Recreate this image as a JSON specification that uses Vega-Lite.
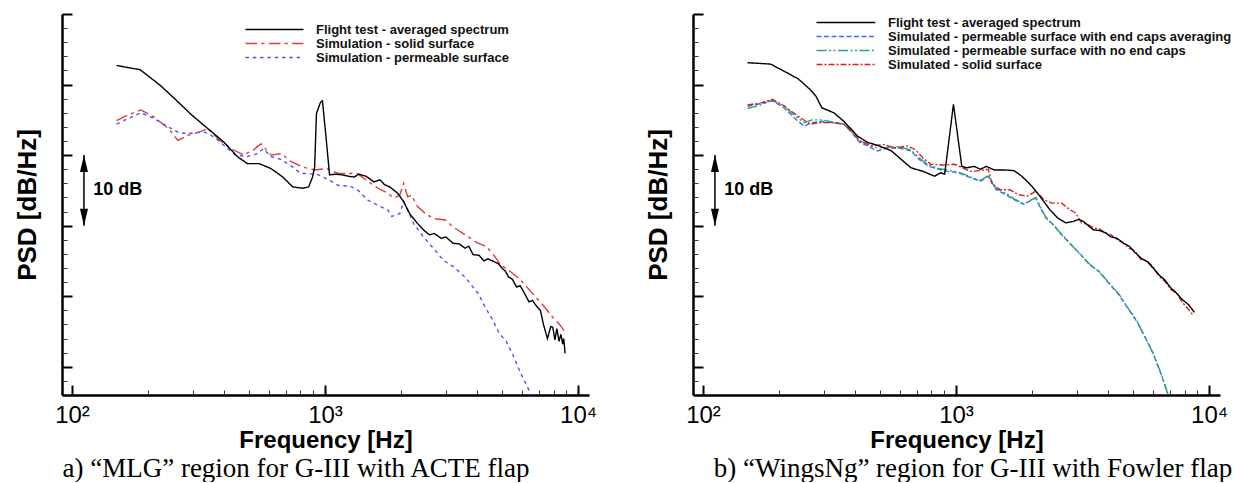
{
  "$schema": "https://vega.github.io/schema/vega-lite/v6.json",
  "autosize": {"type": "pad"},
  "padding": {"left": 14, "top": 13, "right": 0, "bottom": 0},
  "background": "white",
  "bounds": "flush",
  "spacing": 104,
  "config": {
    "view": {"stroke": null},
    "font": "Liberation Sans",
    "axis": {"grid": false, "domainColor": "black", "tickColor": "black", "labelColor": "black", "titleColor": "black"}
  },
  "resolve": {
    "scale": {"color": "independent", "strokeDash": "independent"},
    "legend": {"color": "independent", "strokeDash": "independent"}
  },
  "datasets": {
    "ann": [{"f": 111.5, "lo": 20, "hi": 30}],
    "heads": [{"f": 111.5, "v": 30, "dir": "up"}, {"f": 111.5, "v": 20, "dir": "down"}],
    "lbl": [{"f": 121.4, "v": 25.05, "t": "10 dB"}],
    "a": [
      {"s": "Simulation - solid surface", "f": 150, "v": 34.9},
      {"s": "Simulation - solid surface", "f": 167, "v": 35.7},
      {"s": "Simulation - solid surface", "f": 187, "v": 36.4},
      {"s": "Simulation - solid surface", "f": 211, "v": 35.4},
      {"s": "Simulation - solid surface", "f": 240, "v": 33.8},
      {"s": "Simulation - solid surface", "f": 262, "v": 32.1},
      {"s": "Simulation - solid surface", "f": 287, "v": 32.8},
      {"s": "Simulation - solid surface", "f": 320, "v": 33.3},
      {"s": "Simulation - solid surface", "f": 344, "v": 33.8},
      {"s": "Simulation - solid surface", "f": 383, "v": 32.1},
      {"s": "Simulation - solid surface", "f": 427, "v": 30.9},
      {"s": "Simulation - solid surface", "f": 476, "v": 30.0},
      {"s": "Simulation - solid surface", "f": 520, "v": 30.7},
      {"s": "Simulation - solid surface", "f": 559, "v": 31.6},
      {"s": "Simulation - solid surface", "f": 612, "v": 30.0},
      {"s": "Simulation - solid surface", "f": 669, "v": 30.2},
      {"s": "Simulation - solid surface", "f": 733, "v": 29.1},
      {"s": "Simulation - solid surface", "f": 816, "v": 28.3},
      {"s": "Simulation - solid surface", "f": 910, "v": 27.9},
      {"s": "Simulation - solid surface", "f": 1014, "v": 28.1},
      {"s": "Simulation - solid surface", "f": 1130, "v": 27.4},
      {"s": "Simulation - solid surface", "f": 1259, "v": 27.4},
      {"s": "Simulation - solid surface", "f": 1328, "v": 27.5},
      {"s": "Simulation - solid surface", "f": 1453, "v": 26.5},
      {"s": "Simulation - solid surface", "f": 1619, "v": 25.3},
      {"s": "Simulation - solid surface", "f": 1771, "v": 24.6},
      {"s": "Simulation - solid surface", "f": 1870, "v": 23.9},
      {"s": "Simulation - solid surface", "f": 1973, "v": 24.3},
      {"s": "Simulation - solid surface", "f": 2046, "v": 26.0},
      {"s": "Simulation - solid surface", "f": 2121, "v": 24.1},
      {"s": "Simulation - solid surface", "f": 2199, "v": 24.3},
      {"s": "Simulation - solid surface", "f": 2322, "v": 22.7},
      {"s": "Simulation - solid surface", "f": 2497, "v": 21.7},
      {"s": "Simulation - solid surface", "f": 2681, "v": 21.0},
      {"s": "Simulation - solid surface", "f": 2989, "v": 20.8},
      {"s": "Simulation - solid surface", "f": 3212, "v": 19.8},
      {"s": "Simulation - solid surface", "f": 3578, "v": 18.7},
      {"s": "Simulation - solid surface", "f": 3988, "v": 17.6},
      {"s": "Simulation - solid surface", "f": 4363, "v": 17.0},
      {"s": "Simulation - solid surface", "f": 4692, "v": 15.6},
      {"s": "Simulation - solid surface", "f": 4950, "v": 14.4},
      {"s": "Simulation - solid surface", "f": 5319, "v": 13.7},
      {"s": "Simulation - solid surface", "f": 5926, "v": 12.3},
      {"s": "Simulation - solid surface", "f": 6606, "v": 10.4},
      {"s": "Simulation - solid surface", "f": 7363, "v": 8.5},
      {"s": "Simulation - solid surface", "f": 7910, "v": 7.1},
      {"s": "Simulation - solid surface", "f": 8500, "v": 5.9},
      {"s": "Simulation - solid surface", "f": 8850, "v": 5.0},
      {"s": "Simulation - permeable surface", "f": 150, "v": 34.4},
      {"s": "Simulation - permeable surface", "f": 167, "v": 35.2},
      {"s": "Simulation - permeable surface", "f": 187, "v": 36.0},
      {"s": "Simulation - permeable surface", "f": 211, "v": 35.2},
      {"s": "Simulation - permeable surface", "f": 240, "v": 34.0},
      {"s": "Simulation - permeable surface", "f": 267, "v": 33.1},
      {"s": "Simulation - permeable surface", "f": 297, "v": 33.1},
      {"s": "Simulation - permeable surface", "f": 331, "v": 33.3},
      {"s": "Simulation - permeable surface", "f": 363, "v": 32.6},
      {"s": "Simulation - permeable surface", "f": 404, "v": 31.2},
      {"s": "Simulation - permeable surface", "f": 443, "v": 30.0},
      {"s": "Simulation - permeable surface", "f": 493, "v": 29.8},
      {"s": "Simulation - permeable surface", "f": 540, "v": 30.2},
      {"s": "Simulation - permeable surface", "f": 570, "v": 30.9},
      {"s": "Simulation - permeable surface", "f": 612, "v": 29.8},
      {"s": "Simulation - permeable surface", "f": 669, "v": 29.4},
      {"s": "Simulation - permeable surface", "f": 746, "v": 28.3},
      {"s": "Simulation - permeable surface", "f": 802, "v": 27.4},
      {"s": "Simulation - permeable surface", "f": 862, "v": 27.4},
      {"s": "Simulation - permeable surface", "f": 944, "v": 27.2},
      {"s": "Simulation - permeable surface", "f": 1033, "v": 26.5},
      {"s": "Simulation - permeable surface", "f": 1130, "v": 25.7},
      {"s": "Simulation - permeable surface", "f": 1259, "v": 25.6},
      {"s": "Simulation - permeable surface", "f": 1352, "v": 25.0},
      {"s": "Simulation - permeable surface", "f": 1479, "v": 23.6},
      {"s": "Simulation - permeable surface", "f": 1619, "v": 22.9},
      {"s": "Simulation - permeable surface", "f": 1771, "v": 22.2},
      {"s": "Simulation - permeable surface", "f": 1836, "v": 21.3},
      {"s": "Simulation - permeable surface", "f": 1973, "v": 21.7},
      {"s": "Simulation - permeable surface", "f": 2046, "v": 23.4},
      {"s": "Simulation - permeable surface", "f": 2121, "v": 22.2},
      {"s": "Simulation - permeable surface", "f": 2240, "v": 20.3},
      {"s": "Simulation - permeable surface", "f": 2450, "v": 18.4},
      {"s": "Simulation - permeable surface", "f": 2681, "v": 16.8},
      {"s": "Simulation - permeable surface", "f": 2936, "v": 15.1},
      {"s": "Simulation - permeable surface", "f": 3212, "v": 14.2},
      {"s": "Simulation - permeable surface", "f": 3578, "v": 12.7},
      {"s": "Simulation - permeable surface", "f": 4027, "v": 10.4},
      {"s": "Simulation - permeable surface", "f": 4287, "v": 8.5},
      {"s": "Simulation - permeable surface", "f": 4605, "v": 6.6},
      {"s": "Simulation - permeable surface", "f": 4875, "v": 4.8},
      {"s": "Simulation - permeable surface", "f": 5200, "v": 3.6},
      {"s": "Simulation - permeable surface", "f": 5500, "v": 1.9},
      {"s": "Simulation - permeable surface", "f": 5930, "v": -0.9},
      {"s": "Simulation - permeable surface", "f": 6500, "v": -3.8},
      {"s": "Simulation - permeable surface", "f": 6750, "v": -5.0},
      {"s": "Flight test - averaged spectrum", "f": 150, "v": 42.7},
      {"s": "Flight test - averaged spectrum", "f": 186, "v": 42.1},
      {"s": "Flight test - averaged spectrum", "f": 223, "v": 39.9},
      {"s": "Flight test - averaged spectrum", "f": 258, "v": 37.8},
      {"s": "Flight test - averaged spectrum", "f": 297, "v": 35.7},
      {"s": "Flight test - averaged spectrum", "f": 343, "v": 33.8},
      {"s": "Flight test - averaged spectrum", "f": 397, "v": 31.9},
      {"s": "Flight test - averaged spectrum", "f": 450, "v": 29.8},
      {"s": "Flight test - averaged spectrum", "f": 493, "v": 28.8},
      {"s": "Flight test - averaged spectrum", "f": 549, "v": 28.8},
      {"s": "Flight test - averaged spectrum", "f": 611, "v": 28.1},
      {"s": "Flight test - averaged spectrum", "f": 681, "v": 26.9},
      {"s": "Flight test - averaged spectrum", "f": 745, "v": 25.5},
      {"s": "Flight test - averaged spectrum", "f": 816, "v": 25.3},
      {"s": "Flight test - averaged spectrum", "f": 862, "v": 25.5},
      {"s": "Flight test - averaged spectrum", "f": 893, "v": 26.9},
      {"s": "Flight test - averaged spectrum", "f": 910, "v": 28.3},
      {"s": "Flight test - averaged spectrum", "f": 925, "v": 35.9},
      {"s": "Flight test - averaged spectrum", "f": 960, "v": 37.5},
      {"s": "Flight test - averaged spectrum", "f": 977, "v": 37.7},
      {"s": "Flight test - averaged spectrum", "f": 1012, "v": 32.1},
      {"s": "Flight test - averaged spectrum", "f": 1042, "v": 27.2},
      {"s": "Flight test - averaged spectrum", "f": 1100, "v": 27.3},
      {"s": "Flight test - averaged spectrum", "f": 1170, "v": 27.2},
      {"s": "Flight test - averaged spectrum", "f": 1240, "v": 27.0},
      {"s": "Flight test - averaged spectrum", "f": 1304, "v": 26.9},
      {"s": "Flight test - averaged spectrum", "f": 1360, "v": 27.3},
      {"s": "Flight test - averaged spectrum", "f": 1453, "v": 27.0},
      {"s": "Flight test - averaged spectrum", "f": 1561, "v": 26.2},
      {"s": "Flight test - averaged spectrum", "f": 1648, "v": 26.5},
      {"s": "Flight test - averaged spectrum", "f": 1720, "v": 25.8},
      {"s": "Flight test - averaged spectrum", "f": 1803, "v": 25.5},
      {"s": "Flight test - averaged spectrum", "f": 1937, "v": 24.6},
      {"s": "Flight test - averaged spectrum", "f": 2046, "v": 23.4},
      {"s": "Flight test - averaged spectrum", "f": 2160, "v": 21.7},
      {"s": "Flight test - averaged spectrum", "f": 2322, "v": 20.3},
      {"s": "Flight test - averaged spectrum", "f": 2450, "v": 19.4},
      {"s": "Flight test - averaged spectrum", "f": 2586, "v": 18.7},
      {"s": "Flight test - averaged spectrum", "f": 2700, "v": 18.9},
      {"s": "Flight test - averaged spectrum", "f": 2883, "v": 18.2},
      {"s": "Flight test - averaged spectrum", "f": 3000, "v": 18.4},
      {"s": "Flight test - averaged spectrum", "f": 3212, "v": 17.5},
      {"s": "Flight test - averaged spectrum", "f": 3400, "v": 17.4},
      {"s": "Flight test - averaged spectrum", "f": 3578, "v": 16.8},
      {"s": "Flight test - averaged spectrum", "f": 3700, "v": 17.1},
      {"s": "Flight test - averaged spectrum", "f": 3846, "v": 15.9},
      {"s": "Flight test - averaged spectrum", "f": 4064, "v": 15.8},
      {"s": "Flight test - averaged spectrum", "f": 4250, "v": 15.0},
      {"s": "Flight test - averaged spectrum", "f": 4400, "v": 15.3},
      {"s": "Flight test - averaged spectrum", "f": 4660, "v": 14.9},
      {"s": "Flight test - averaged spectrum", "f": 4850, "v": 14.6},
      {"s": "Flight test - averaged spectrum", "f": 5000, "v": 14.0},
      {"s": "Flight test - averaged spectrum", "f": 5150, "v": 13.6},
      {"s": "Flight test - averaged spectrum", "f": 5319, "v": 12.7},
      {"s": "Flight test - averaged spectrum", "f": 5500, "v": 12.4},
      {"s": "Flight test - averaged spectrum", "f": 5719, "v": 11.3},
      {"s": "Flight test - averaged spectrum", "f": 5900, "v": 11.5},
      {"s": "Flight test - averaged spectrum", "f": 6146, "v": 10.4},
      {"s": "Flight test - averaged spectrum", "f": 6400, "v": 9.2},
      {"s": "Flight test - averaged spectrum", "f": 6606, "v": 9.4},
      {"s": "Flight test - averaged spectrum", "f": 6850, "v": 8.6},
      {"s": "Flight test - averaged spectrum", "f": 7100, "v": 8.0},
      {"s": "Flight test - averaged spectrum", "f": 7300, "v": 6.0},
      {"s": "Flight test - averaged spectrum", "f": 7570, "v": 4.0},
      {"s": "Flight test - averaged spectrum", "f": 7800, "v": 5.7},
      {"s": "Flight test - averaged spectrum", "f": 7950, "v": 5.6},
      {"s": "Flight test - averaged spectrum", "f": 8100, "v": 3.8},
      {"s": "Flight test - averaged spectrum", "f": 8250, "v": 5.4},
      {"s": "Flight test - averaged spectrum", "f": 8410, "v": 3.6},
      {"s": "Flight test - averaged spectrum", "f": 8560, "v": 4.6},
      {"s": "Flight test - averaged spectrum", "f": 8700, "v": 3.2},
      {"s": "Flight test - averaged spectrum", "f": 8780, "v": 4.0},
      {"s": "Flight test - averaged spectrum", "f": 8890, "v": 1.9}
    ],
    "b": [
      {"s": "Simulated - permeable surface with end caps averaging", "f": 150, "v": 36.9},
      {"s": "Simulated - permeable surface with end caps averaging", "f": 169, "v": 37.3},
      {"s": "Simulated - permeable surface with end caps averaging", "f": 188, "v": 37.7},
      {"s": "Simulated - permeable surface with end caps averaging", "f": 209, "v": 36.7},
      {"s": "Simulated - permeable surface with end caps averaging", "f": 229, "v": 35.3},
      {"s": "Simulated - permeable surface with end caps averaging", "f": 251, "v": 34.1},
      {"s": "Simulated - permeable surface with end caps averaging", "f": 270, "v": 34.6},
      {"s": "Simulated - permeable surface with end caps averaging", "f": 295, "v": 34.8},
      {"s": "Simulated - permeable surface with end caps averaging", "f": 323, "v": 34.6},
      {"s": "Simulated - permeable surface with end caps averaging", "f": 360, "v": 34.4},
      {"s": "Simulated - permeable surface with end caps averaging", "f": 387, "v": 33.2},
      {"s": "Simulated - permeable surface with end caps averaging", "f": 416, "v": 31.8},
      {"s": "Simulated - permeable surface with end caps averaging", "f": 447, "v": 31.3},
      {"s": "Simulated - permeable surface with end caps averaging", "f": 489, "v": 30.6},
      {"s": "Simulated - permeable surface with end caps averaging", "f": 535, "v": 31.0},
      {"s": "Simulated - permeable surface with end caps averaging", "f": 596, "v": 31.0},
      {"s": "Simulated - permeable surface with end caps averaging", "f": 664, "v": 30.6},
      {"s": "Simulated - permeable surface with end caps averaging", "f": 714, "v": 29.4},
      {"s": "Simulated - permeable surface with end caps averaging", "f": 781, "v": 28.4},
      {"s": "Simulated - permeable surface with end caps averaging", "f": 855, "v": 28.0},
      {"s": "Simulated - permeable surface with end caps averaging", "f": 919, "v": 27.7},
      {"s": "Simulated - permeable surface with end caps averaging", "f": 1024, "v": 27.5},
      {"s": "Simulated - permeable surface with end caps averaging", "f": 1141, "v": 26.8},
      {"s": "Simulated - permeable surface with end caps averaging", "f": 1248, "v": 26.3},
      {"s": "Simulated - permeable surface with end caps averaging", "f": 1342, "v": 27.0},
      {"s": "Simulated - permeable surface with end caps averaging", "f": 1442, "v": 25.1},
      {"s": "Simulated - permeable surface with end caps averaging", "f": 1607, "v": 24.2},
      {"s": "Simulated - permeable surface with end caps averaging", "f": 1695, "v": 23.7},
      {"s": "Simulated - permeable surface with end caps averaging", "f": 1857, "v": 23.0},
      {"s": "Simulated - permeable surface with end caps averaging", "f": 1960, "v": 23.5},
      {"s": "Simulated - permeable surface with end caps averaging", "f": 2069, "v": 23.9},
      {"s": "Simulated - permeable surface with end caps averaging", "f": 2143, "v": 22.7},
      {"s": "Simulated - permeable surface with end caps averaging", "f": 2264, "v": 21.1},
      {"s": "Simulated - permeable surface with end caps averaging", "f": 2433, "v": 20.1},
      {"s": "Simulated - permeable surface with end caps averaging", "f": 2570, "v": 19.0},
      {"s": "Simulated - permeable surface with end caps averaging", "f": 2810, "v": 17.5},
      {"s": "Simulated - permeable surface with end caps averaging", "f": 3077, "v": 16.1},
      {"s": "Simulated - permeable surface with end caps averaging", "f": 3366, "v": 14.5},
      {"s": "Simulated - permeable surface with end caps averaging", "f": 3682, "v": 13.5},
      {"s": "Simulated - permeable surface with end caps averaging", "f": 4027, "v": 11.8},
      {"s": "Simulated - permeable surface with end caps averaging", "f": 4405, "v": 10.2},
      {"s": "Simulated - permeable surface with end caps averaging", "f": 4833, "v": 8.0},
      {"s": "Simulated - permeable surface with end caps averaging", "f": 5188, "v": 6.4},
      {"s": "Simulated - permeable surface with end caps averaging", "f": 5575, "v": 4.3},
      {"s": "Simulated - permeable surface with end caps averaging", "f": 6004, "v": 1.9},
      {"s": "Simulated - permeable surface with end caps averaging", "f": 6442, "v": -0.9},
      {"s": "Simulated - permeable surface with end caps averaging", "f": 6840, "v": -3.6},
      {"s": "Simulated - permeable surface with end caps averaging", "f": 7050, "v": -5.0},
      {"s": "Simulated - permeable surface with no end caps", "f": 150, "v": 36.6},
      {"s": "Simulated - permeable surface with no end caps", "f": 169, "v": 37.1},
      {"s": "Simulated - permeable surface with no end caps", "f": 188, "v": 37.8},
      {"s": "Simulated - permeable surface with no end caps", "f": 209, "v": 36.9},
      {"s": "Simulated - permeable surface with no end caps", "f": 229, "v": 35.7},
      {"s": "Simulated - permeable surface with no end caps", "f": 251, "v": 34.6},
      {"s": "Simulated - permeable surface with no end caps", "f": 270, "v": 35.0},
      {"s": "Simulated - permeable surface with no end caps", "f": 295, "v": 35.0},
      {"s": "Simulated - permeable surface with no end caps", "f": 323, "v": 34.7},
      {"s": "Simulated - permeable surface with no end caps", "f": 360, "v": 34.4},
      {"s": "Simulated - permeable surface with no end caps", "f": 387, "v": 33.3},
      {"s": "Simulated - permeable surface with no end caps", "f": 416, "v": 32.0},
      {"s": "Simulated - permeable surface with no end caps", "f": 447, "v": 31.6},
      {"s": "Simulated - permeable surface with no end caps", "f": 489, "v": 31.0},
      {"s": "Simulated - permeable surface with no end caps", "f": 535, "v": 31.1},
      {"s": "Simulated - permeable surface with no end caps", "f": 596, "v": 31.2},
      {"s": "Simulated - permeable surface with no end caps", "f": 664, "v": 30.7},
      {"s": "Simulated - permeable surface with no end caps", "f": 714, "v": 29.6},
      {"s": "Simulated - permeable surface with no end caps", "f": 781, "v": 28.6},
      {"s": "Simulated - permeable surface with no end caps", "f": 855, "v": 28.1},
      {"s": "Simulated - permeable surface with no end caps", "f": 919, "v": 27.9},
      {"s": "Simulated - permeable surface with no end caps", "f": 1024, "v": 27.6},
      {"s": "Simulated - permeable surface with no end caps", "f": 1141, "v": 26.9},
      {"s": "Simulated - permeable surface with no end caps", "f": 1248, "v": 26.4},
      {"s": "Simulated - permeable surface with no end caps", "f": 1342, "v": 27.1},
      {"s": "Simulated - permeable surface with no end caps", "f": 1442, "v": 25.3},
      {"s": "Simulated - permeable surface with no end caps", "f": 1607, "v": 24.4},
      {"s": "Simulated - permeable surface with no end caps", "f": 1695, "v": 23.8},
      {"s": "Simulated - permeable surface with no end caps", "f": 1857, "v": 23.1},
      {"s": "Simulated - permeable surface with no end caps", "f": 1960, "v": 23.6},
      {"s": "Simulated - permeable surface with no end caps", "f": 2069, "v": 24.0},
      {"s": "Simulated - permeable surface with no end caps", "f": 2143, "v": 22.8},
      {"s": "Simulated - permeable surface with no end caps", "f": 2264, "v": 21.2},
      {"s": "Simulated - permeable surface with no end caps", "f": 2433, "v": 20.0},
      {"s": "Simulated - permeable surface with no end caps", "f": 2570, "v": 19.1},
      {"s": "Simulated - permeable surface with no end caps", "f": 2810, "v": 17.6},
      {"s": "Simulated - permeable surface with no end caps", "f": 3077, "v": 16.0},
      {"s": "Simulated - permeable surface with no end caps", "f": 3366, "v": 14.6},
      {"s": "Simulated - permeable surface with no end caps", "f": 3682, "v": 13.4},
      {"s": "Simulated - permeable surface with no end caps", "f": 4027, "v": 11.9},
      {"s": "Simulated - permeable surface with no end caps", "f": 4405, "v": 10.3},
      {"s": "Simulated - permeable surface with no end caps", "f": 4833, "v": 8.1},
      {"s": "Simulated - permeable surface with no end caps", "f": 5188, "v": 6.5},
      {"s": "Simulated - permeable surface with no end caps", "f": 5575, "v": 4.2},
      {"s": "Simulated - permeable surface with no end caps", "f": 6004, "v": 2.0},
      {"s": "Simulated - permeable surface with no end caps", "f": 6442, "v": -0.8},
      {"s": "Simulated - permeable surface with no end caps", "f": 6840, "v": -3.6},
      {"s": "Simulated - permeable surface with no end caps", "f": 7050, "v": -5.0},
      {"s": "Simulated - solid surface", "f": 150, "v": 37.1},
      {"s": "Simulated - solid surface", "f": 169, "v": 37.4},
      {"s": "Simulated - solid surface", "f": 188, "v": 37.9},
      {"s": "Simulated - solid surface", "f": 209, "v": 37.0},
      {"s": "Simulated - solid surface", "f": 238, "v": 35.5},
      {"s": "Simulated - solid surface", "f": 265, "v": 34.4},
      {"s": "Simulated - solid surface", "f": 290, "v": 34.6},
      {"s": "Simulated - solid surface", "f": 323, "v": 34.6},
      {"s": "Simulated - solid surface", "f": 360, "v": 34.4},
      {"s": "Simulated - solid surface", "f": 387, "v": 33.4},
      {"s": "Simulated - solid surface", "f": 416, "v": 32.0},
      {"s": "Simulated - solid surface", "f": 463, "v": 31.3},
      {"s": "Simulated - solid surface", "f": 516, "v": 31.5},
      {"s": "Simulated - solid surface", "f": 575, "v": 31.0},
      {"s": "Simulated - solid surface", "f": 641, "v": 31.3},
      {"s": "Simulated - solid surface", "f": 689, "v": 30.8},
      {"s": "Simulated - solid surface", "f": 740, "v": 29.6},
      {"s": "Simulated - solid surface", "f": 796, "v": 28.7},
      {"s": "Simulated - solid surface", "f": 887, "v": 28.6},
      {"s": "Simulated - solid surface", "f": 989, "v": 28.7},
      {"s": "Simulated - solid surface", "f": 1061, "v": 28.2},
      {"s": "Simulated - solid surface", "f": 1141, "v": 27.7},
      {"s": "Simulated - solid surface", "f": 1248, "v": 27.8},
      {"s": "Simulated - solid surface", "f": 1342, "v": 28.0},
      {"s": "Simulated - solid surface", "f": 1390, "v": 25.8},
      {"s": "Simulated - solid surface", "f": 1495, "v": 25.1},
      {"s": "Simulated - solid surface", "f": 1636, "v": 25.1},
      {"s": "Simulated - solid surface", "f": 1759, "v": 24.4},
      {"s": "Simulated - solid surface", "f": 1923, "v": 24.2},
      {"s": "Simulated - solid surface", "f": 2069, "v": 24.9},
      {"s": "Simulated - solid surface", "f": 2223, "v": 23.7},
      {"s": "Simulated - solid surface", "f": 2389, "v": 23.2},
      {"s": "Simulated - solid surface", "f": 2614, "v": 23.2},
      {"s": "Simulated - solid surface", "f": 2810, "v": 22.3},
      {"s": "Simulated - solid surface", "f": 2966, "v": 21.8},
      {"s": "Simulated - solid surface", "f": 3133, "v": 20.4},
      {"s": "Simulated - solid surface", "f": 3300, "v": 20.2},
      {"s": "Simulated - solid surface", "f": 3490, "v": 19.7},
      {"s": "Simulated - solid surface", "f": 3700, "v": 19.5},
      {"s": "Simulated - solid surface", "f": 3890, "v": 19.0},
      {"s": "Simulated - solid surface", "f": 4100, "v": 18.7},
      {"s": "Simulated - solid surface", "f": 4336, "v": 18.0},
      {"s": "Simulated - solid surface", "f": 4550, "v": 17.6},
      {"s": "Simulated - solid surface", "f": 4833, "v": 16.8},
      {"s": "Simulated - solid surface", "f": 5100, "v": 16.4},
      {"s": "Simulated - solid surface", "f": 5387, "v": 15.2},
      {"s": "Simulated - solid surface", "f": 5700, "v": 15.0},
      {"s": "Simulated - solid surface", "f": 6004, "v": 14.2},
      {"s": "Simulated - solid surface", "f": 6350, "v": 12.8},
      {"s": "Simulated - solid surface", "f": 6691, "v": 12.1},
      {"s": "Simulated - solid surface", "f": 7050, "v": 11.0},
      {"s": "Simulated - solid surface", "f": 7458, "v": 10.4},
      {"s": "Simulated - solid surface", "f": 7850, "v": 9.1},
      {"s": "Simulated - solid surface", "f": 8303, "v": 8.1},
      {"s": "Simulated - solid surface", "f": 8656, "v": 7.3},
      {"s": "Flight test - averaged spectrum", "f": 150, "v": 43.1},
      {"s": "Flight test - averaged spectrum", "f": 185, "v": 42.9},
      {"s": "Flight test - averaged spectrum", "f": 209, "v": 41.9},
      {"s": "Flight test - averaged spectrum", "f": 238, "v": 40.8},
      {"s": "Flight test - averaged spectrum", "f": 265, "v": 39.3},
      {"s": "Flight test - averaged spectrum", "f": 279, "v": 38.4},
      {"s": "Flight test - averaged spectrum", "f": 295, "v": 36.7},
      {"s": "Flight test - averaged spectrum", "f": 329, "v": 36.0},
      {"s": "Flight test - averaged spectrum", "f": 360, "v": 34.8},
      {"s": "Flight test - averaged spectrum", "f": 387, "v": 33.6},
      {"s": "Flight test - averaged spectrum", "f": 408, "v": 32.7},
      {"s": "Flight test - averaged spectrum", "f": 447, "v": 31.8},
      {"s": "Flight test - averaged spectrum", "f": 498, "v": 31.3},
      {"s": "Flight test - averaged spectrum", "f": 555, "v": 30.6},
      {"s": "Flight test - averaged spectrum", "f": 607, "v": 29.4},
      {"s": "Flight test - averaged spectrum", "f": 664, "v": 28.2},
      {"s": "Flight test - averaged spectrum", "f": 740, "v": 27.7},
      {"s": "Flight test - averaged spectrum", "f": 824, "v": 27.0},
      {"s": "Flight test - averaged spectrum", "f": 871, "v": 27.5},
      {"s": "Flight test - averaged spectrum", "f": 902, "v": 27.3},
      {"s": "Flight test - averaged spectrum", "f": 977, "v": 37.2},
      {"s": "Flight test - averaged spectrum", "f": 1054, "v": 28.4},
      {"s": "Flight test - averaged spectrum", "f": 1100, "v": 28.2},
      {"s": "Flight test - averaged spectrum", "f": 1182, "v": 28.4},
      {"s": "Flight test - averaged spectrum", "f": 1248, "v": 28.0},
      {"s": "Flight test - averaged spectrum", "f": 1318, "v": 28.4},
      {"s": "Flight test - averaged spectrum", "f": 1416, "v": 27.9},
      {"s": "Flight test - averaged spectrum", "f": 1550, "v": 27.9},
      {"s": "Flight test - averaged spectrum", "f": 1695, "v": 27.8},
      {"s": "Flight test - averaged spectrum", "f": 1822, "v": 27.0},
      {"s": "Flight test - averaged spectrum", "f": 1994, "v": 25.6},
      {"s": "Flight test - averaged spectrum", "f": 2143, "v": 24.2},
      {"s": "Flight test - averaged spectrum", "f": 2345, "v": 22.3},
      {"s": "Flight test - averaged spectrum", "f": 2521, "v": 21.1},
      {"s": "Flight test - averaged spectrum", "f": 2710, "v": 20.4},
      {"s": "Flight test - averaged spectrum", "f": 2914, "v": 20.6},
      {"s": "Flight test - averaged spectrum", "f": 3050, "v": 20.9},
      {"s": "Flight test - averaged spectrum", "f": 3188, "v": 20.6},
      {"s": "Flight test - averaged spectrum", "f": 3490, "v": 19.4},
      {"s": "Flight test - averaged spectrum", "f": 3700, "v": 19.3},
      {"s": "Flight test - averaged spectrum", "f": 3890, "v": 19.0},
      {"s": "Flight test - averaged spectrum", "f": 4100, "v": 18.4},
      {"s": "Flight test - averaged spectrum", "f": 4336, "v": 18.2},
      {"s": "Flight test - averaged spectrum", "f": 4600, "v": 17.5},
      {"s": "Flight test - averaged spectrum", "f": 4833, "v": 17.1},
      {"s": "Flight test - averaged spectrum", "f": 5100, "v": 16.2},
      {"s": "Flight test - averaged spectrum", "f": 5387, "v": 15.4},
      {"s": "Flight test - averaged spectrum", "f": 5700, "v": 14.9},
      {"s": "Flight test - averaged spectrum", "f": 6004, "v": 14.0},
      {"s": "Flight test - averaged spectrum", "f": 6350, "v": 13.0},
      {"s": "Flight test - averaged spectrum", "f": 6691, "v": 12.3},
      {"s": "Flight test - averaged spectrum", "f": 7050, "v": 11.2},
      {"s": "Flight test - averaged spectrum", "f": 7458, "v": 10.4},
      {"s": "Flight test - averaged spectrum", "f": 7850, "v": 9.5},
      {"s": "Flight test - averaged spectrum", "f": 8303, "v": 8.8},
      {"s": "Flight test - averaged spectrum", "f": 8758, "v": 7.7}
    ]
  },
  "hconcat": [
    {
      "width": 527,
      "height": 381,
      "title": {"text": "a) “MLG” region for G-III with ACTE flap", "orient": "bottom", "anchor": "middle", "frame": "group", "dx": -29.5, "offset": 4, "font": "Liberation Serif", "fontSize": 27, "fontWeight": "normal", "color": "black"},
      "resolve": {"scale": {"x": "independent", "y": "independent"}},
      "layer": [
        {
          "data": {"name": "a"},
          "mark": {"type": "line", "clip": true, "strokeWidth": 1.4},
          "encoding": {
            "x": {"field": "f", "type": "quantitative", "scale": {"type": "log", "domain": [91.3, 11050], "nice": false},
              "axis": {"orient": "bottom", "values": [100, 1000, 10000], "labelExpr": "datum.value == 100 ? '10²' : datum.value == 1000 ? '10³' : '10⁴'", "tickSize": -10, "tickWidth": 2, "domainWidth": 2.5, "labelFontSize": 24, "labelPadding": 18, "labelFlush": false, "labelOverlap": false, "labelBaseline": "top", "title": "Frequency [Hz]", "titleFontSize": 24, "titleFontWeight": "bold", "titleY": 52, "titleBaseline": "alphabetic"}},
            "y": {"field": "v", "type": "quantitative", "scale": {"domain": [-4, 50], "nice": false, "zero": false},
              "axis": {"orient": "left", "values": [0, 10, 20, 30, 40, 50], "labels": false, "tickSize": -10, "tickWidth": 2, "domainWidth": 2.5, "title": "PSD [dB/Hz]", "titleFontSize": 26, "titleFontWeight": "bold", "titleX": -26.3, "titleBaseline": "alphabetic"}},
            "color": {"field": "s", "type": "nominal",
              "scale": {"domain": ["Flight test - averaged spectrum", "Simulation - solid surface", "Simulation - permeable surface"], "range": ["#000000", "#e23b3b", "#5050ff"]},
              "legend": {"orient": "none", "legendX": 177, "legendY": 9, "title": null, "symbolType": "M0,0H19.33", "symbolSize": 36, "symbolStrokeWidth": 1.6, "labelFontSize": 13, "labelFontWeight": "bold", "labelColor": "#111111", "labelOffset": 64, "rowPadding": 0, "padding": 0, "labelLimit": 600}},
            "strokeDash": {"field": "s", "type": "nominal",
              "scale": {"domain": ["Flight test - averaged spectrum", "Simulation - solid surface", "Simulation - permeable surface"], "range": [[1, 0], [11.7, 4, 3.3, 4.3], [3.5, 3.8]]},
              "legend": {"orient": "none", "legendX": 177, "legendY": 9, "title": null, "symbolType": "M0,0H19.33", "symbolSize": 36, "symbolStrokeWidth": 1.6, "labelFontSize": 13, "labelFontWeight": "bold", "labelColor": "#111111", "labelOffset": 64, "rowPadding": 0, "padding": 0, "labelLimit": 600}}
          }
        },
        {
          "data": {"name": "ann"},
          "mark": {"type": "rule", "strokeWidth": 1.5, "color": "black"},
          "encoding": {
            "x": {"field": "f", "type": "quantitative", "scale": {"type": "log", "domain": [91.3, 11050], "nice": false},
              "axis": {"orient": "bottom", "values": [200, 300, 400, 500, 600, 700, 800, 900, 2000, 3000, 4000, 5000, 6000, 7000, 8000, 9000], "labels": false, "domain": false, "tickSize": -5, "tickWidth": 1, "tickColor": "#333333", "title": null}},
            "y": {"field": "lo", "type": "quantitative", "scale": {"domain": [-4, 50], "nice": false, "zero": false},
              "axis": {"orient": "left", "values": [-2, 2, 4, 6, 8, 12, 14, 16, 18, 22, 24, 26, 28, 32, 34, 36, 38, 42, 44, 46, 48], "labels": false, "domain": false, "tickSize": -5, "tickWidth": 1, "tickColor": "#333333", "title": null}},
            "y2": {"field": "hi"}
          }
        },
        {
          "data": {"name": "heads"},
          "mark": {"type": "point", "filled": true, "color": "black", "opacity": 1, "size": 289},
          "encoding": {
            "x": {"field": "f", "type": "quantitative", "scale": {"type": "log", "domain": [91.3, 11050], "nice": false}, "axis": null},
            "y": {"field": "v", "type": "quantitative", "scale": {"domain": [-4, 50], "nice": false, "zero": false}, "axis": null},
            "shape": {"field": "dir", "type": "nominal", "scale": {"domain": ["up", "down"], "range": ["M0,0L-0.47,2L0.47,2Z", "M0,0L-0.47,-2L0.47,-2Z"]}, "legend": null}
          }
        },
        {
          "data": {"name": "lbl"},
          "mark": {"type": "text", "align": "left", "baseline": "middle", "fontSize": 18, "fontWeight": "bold", "color": "black"},
          "encoding": {
            "x": {"field": "f", "type": "quantitative", "scale": {"type": "log", "domain": [91.3, 11050], "nice": false}, "axis": null},
            "y": {"field": "v", "type": "quantitative", "scale": {"domain": [-4, 50], "nice": false, "zero": false}, "axis": null},
            "text": {"field": "t"}
          }
        }
      ]
    },
    {
      "width": 527,
      "height": 381,
      "title": {"text": "b) “WingsNg” region for G-III with Fowler flap", "orient": "bottom", "anchor": "middle", "frame": "group", "dx": 16.5, "offset": 4, "font": "Liberation Serif", "fontSize": 27, "fontWeight": "normal", "color": "black"},
      "resolve": {"scale": {"x": "independent", "y": "independent"}},
      "layer": [
        {
          "data": {"name": "b"},
          "mark": {"type": "line", "clip": true, "strokeWidth": 1.4},
          "encoding": {
            "x": {"field": "f", "type": "quantitative", "scale": {"type": "log", "domain": [91.3, 11050], "nice": false},
              "axis": {"orient": "bottom", "values": [100, 1000, 10000], "labelExpr": "datum.value == 100 ? '10²' : datum.value == 1000 ? '10³' : '10⁴'", "tickSize": -10, "tickWidth": 2, "domainWidth": 2.5, "labelFontSize": 24, "labelPadding": 18, "labelFlush": false, "labelOverlap": false, "labelBaseline": "top", "title": "Frequency [Hz]", "titleFontSize": 24, "titleFontWeight": "bold", "titleY": 52, "titleBaseline": "alphabetic"}},
            "y": {"field": "v", "type": "quantitative", "scale": {"domain": [-4, 50], "nice": false, "zero": false},
              "axis": {"orient": "left", "values": [0, 10, 20, 30, 40, 50], "labels": false, "tickSize": -10, "tickWidth": 2, "domainWidth": 2.5, "title": "PSD [dB/Hz]", "titleFontSize": 26, "titleFontWeight": "bold", "titleX": -26.3, "titleBaseline": "alphabetic"}},
            "color": {"field": "s", "type": "nominal",
              "scale": {"domain": ["Flight test - averaged spectrum", "Simulated - permeable surface with end caps averaging", "Simulated - permeable surface with no end caps", "Simulated - solid surface"], "range": ["#000000", "#4466ff", "#2aa872", "#d42222"]},
              "legend": {"orient": "none", "legendX": 117, "legendY": 2, "title": null, "symbolType": "M0,0H19.57", "symbolSize": 36, "symbolStrokeWidth": 1.6, "labelFontSize": 13, "labelFontWeight": "bold", "labelColor": "#111111", "labelOffset": 65, "rowPadding": 0, "padding": 0, "labelLimit": 600}},
            "strokeDash": {"field": "s", "type": "nominal",
              "scale": {"domain": ["Flight test - averaged spectrum", "Simulated - permeable surface with end caps averaging", "Simulated - permeable surface with no end caps", "Simulated - solid surface"], "range": [[1, 0], [5, 2.5], [10, 2.5, 2, 2.5, 2, 2.5], [6, 2, 2, 2]]},
              "legend": {"orient": "none", "legendX": 117, "legendY": 2, "title": null, "symbolType": "M0,0H19.57", "symbolSize": 36, "symbolStrokeWidth": 1.6, "labelFontSize": 13, "labelFontWeight": "bold", "labelColor": "#111111", "labelOffset": 65, "rowPadding": 0, "padding": 0, "labelLimit": 600}}
          }
        },
        {
          "data": {"name": "ann"},
          "mark": {"type": "rule", "strokeWidth": 1.5, "color": "black"},
          "encoding": {
            "x": {"field": "f", "type": "quantitative", "scale": {"type": "log", "domain": [91.3, 11050], "nice": false},
              "axis": {"orient": "bottom", "values": [200, 300, 400, 500, 600, 700, 800, 900, 2000, 3000, 4000, 5000, 6000, 7000, 8000, 9000], "labels": false, "domain": false, "tickSize": -5, "tickWidth": 1, "tickColor": "#333333", "title": null}},
            "y": {"field": "lo", "type": "quantitative", "scale": {"domain": [-4, 50], "nice": false, "zero": false},
              "axis": {"orient": "left", "values": [-2, 2, 4, 6, 8, 12, 14, 16, 18, 22, 24, 26, 28, 32, 34, 36, 38, 42, 44, 46, 48], "labels": false, "domain": false, "tickSize": -5, "tickWidth": 1, "tickColor": "#333333", "title": null}},
            "y2": {"field": "hi"}
          }
        },
        {
          "data": {"name": "heads"},
          "mark": {"type": "point", "filled": true, "color": "black", "opacity": 1, "size": 289},
          "encoding": {
            "x": {"field": "f", "type": "quantitative", "scale": {"type": "log", "domain": [91.3, 11050], "nice": false}, "axis": null},
            "y": {"field": "v", "type": "quantitative", "scale": {"domain": [-4, 50], "nice": false, "zero": false}, "axis": null},
            "shape": {"field": "dir", "type": "nominal", "scale": {"domain": ["up", "down"], "range": ["M0,0L-0.47,2L0.47,2Z", "M0,0L-0.47,-2L0.47,-2Z"]}, "legend": null}
          }
        },
        {
          "data": {"name": "lbl"},
          "mark": {"type": "text", "align": "left", "baseline": "middle", "fontSize": 18, "fontWeight": "bold", "color": "black"},
          "encoding": {
            "x": {"field": "f", "type": "quantitative", "scale": {"type": "log", "domain": [91.3, 11050], "nice": false}, "axis": null},
            "y": {"field": "v", "type": "quantitative", "scale": {"domain": [-4, 50], "nice": false, "zero": false}, "axis": null},
            "text": {"field": "t"}
          }
        }
      ]
    }
  ]
}
